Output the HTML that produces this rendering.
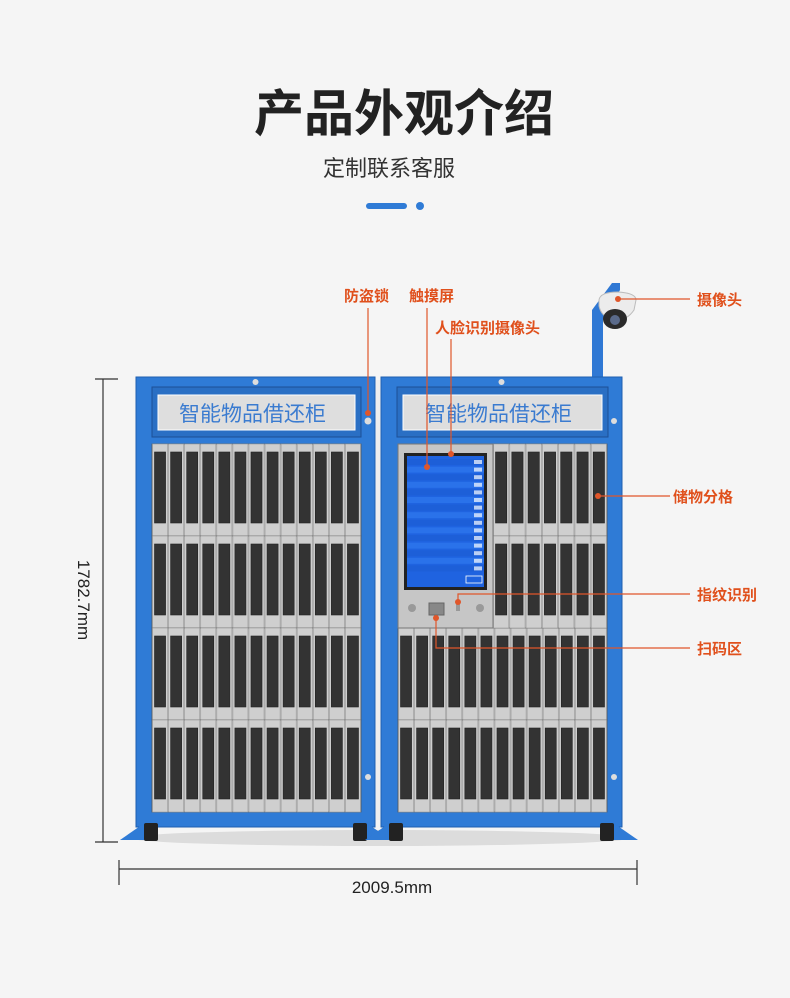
<!DOCTYPE html>
<html><head><meta charset="utf-8"><style>
html,body{margin:0;padding:0;background:#f5f5f5;}
body{width:790px;height:998px;overflow:hidden;font-family:"Liberation Sans","Noto Sans CJK SC",sans-serif;}
svg{display:block}
</style></head><body>
<svg id="s" width="790" height="998" viewBox="0 0 790 998" xmlns="http://www.w3.org/2000/svg" font-family="Liberation Sans, Noto Sans CJK SC, sans-serif">
<rect width="790" height="998" fill="#f5f5f5"/>
<text x="404" y="131" text-anchor="middle" font-size="50" font-weight="bold" fill="#222">产品外观介绍</text>
<text x="389" y="176" text-anchor="middle" font-size="22" fill="#333">定制联系客服</text>
<rect x="366" y="203" width="41" height="6" rx="3" fill="#2f7bd6"/>
<circle cx="420" cy="206" r="4" fill="#2f7bd6"/>

<ellipse cx="380" cy="838" rx="250" ry="8" fill="#ccc" opacity="0.6"/>
<!-- pole -->
<rect x="592" y="318" width="11" height="60" fill="#2f78d4"/>
<polygon points="592,320 603,320 620,290 620,283 612,283 592,310" fill="#2f78d4"/>
<!-- camera -->
<path d="M599,300 Q600,292 618,292 Q636,293 636,300 L634,310 Q626,322 612,320 Q601,316 599,306 Z" fill="#ececec" stroke="#bbb"/>
<ellipse cx="615" cy="319" rx="12" ry="10" fill="#2a2a2a"/>
<circle cx="615" cy="320" r="5" fill="#5a6a8a"/>

<g id="cabs"></g>

<g stroke="#333" stroke-width="1.2">
<line x1="103" y1="379" x2="103" y2="842"/>
<line x1="95" y1="379" x2="118" y2="379"/>
<line x1="95" y1="842" x2="118" y2="842"/>
<line x1="119" y1="869" x2="637" y2="869"/>
<line x1="119" y1="860" x2="119" y2="885"/>
<line x1="637" y1="860" x2="637" y2="885"/>
</g>
<text transform="translate(78,600) rotate(90)" text-anchor="middle" font-size="17" fill="#222">1782.7mm</text>
<text x="392" y="893" text-anchor="middle" font-size="17" fill="#222">2009.5mm</text>

<g stroke="#e0562a" stroke-width="1.2" fill="none">
<line x1="368" y1="308" x2="368" y2="413"/>
<line x1="427" y1="308" x2="427" y2="467"/>
<line x1="451" y1="339" x2="451" y2="454"/>
<line x1="618" y1="299" x2="690" y2="299"/>
<line x1="598" y1="496" x2="670" y2="496"/>
<polyline points="458,602 458,594 690,594"/>
<polyline points="436,618 436,648 690,648"/>
</g>
<g fill="#e0562a">
<circle cx="368" cy="413" r="3"/><circle cx="427" cy="467" r="3"/><circle cx="451" cy="454" r="3"/>
<circle cx="618" cy="299" r="3"/><circle cx="598" cy="496" r="3"/><circle cx="458" cy="602" r="3"/><circle cx="436" cy="618" r="3"/>
</g>
<g fill="#e0501c" font-size="15" font-weight="bold">
<text x="344" y="301">防盗锁</text>
<text x="409" y="301">触摸屏</text>
<text x="435" y="333">人脸识别摄像头</text>
<text x="697" y="305">摄像头</text>
<text x="673" y="502">储物分格</text>
<text x="697" y="600">指纹识别</text>
<text x="697" y="654">扫码区</text>
</g>
</svg>
<script>
var g=document.getElementById('cabs'),h='';
function slots(x0,y0,w,hgt,n){var cw=w/n,s='';s+='<rect x="'+x0+'" y="'+y0+'" width="'+w+'" height="'+hgt+'" fill="#c9c9c9" stroke="#555" stroke-width="0.8"/>';
for(var i=0;i<n;i++){var x=x0+i*cw;s+='<rect x="'+(x+0.5)+'" y="'+y0+'" width="'+(cw-1)+'" height="'+hgt+'" fill="#cfcfcf" stroke="#999" stroke-width="0.6"/>';
s+='<rect x="'+(x+2.5)+'" y="'+(y0+8)+'" width="'+(cw-5)+'" height="'+(hgt-21)+'" fill="#333" stroke="#222" stroke-width="0.6"/>';}return s;}
function cab(x,w){var s='';
s+='<rect x="'+x+'" y="377" width="'+w+'" height="450" fill="#2f7bd6" stroke="#1f5fb0"/>';
s+='<polygon points="'+(x-16)+',840 '+(x+10)+',822 '+(x+10)+',840" fill="#2f7bd6"/>';
s+='<polygon points="'+(x+w+16)+',840 '+(x+w-10)+',822 '+(x+w-10)+',840" fill="#2f7bd6"/>';
s+='<rect x="'+(x+8)+'" y="823" width="14" height="18" rx="2" fill="#222"/>';
s+='<rect x="'+(x+w-22)+'" y="823" width="14" height="18" rx="2" fill="#222"/>';
s+='<rect x="'+(x+16)+'" y="387" width="'+(w-30)+'" height="50" fill="#2a6fc4" stroke="#1c4f95"/>';
s+='<rect x="'+(x+22)+'" y="395" width="'+(w-42)+'" height="35" fill="#dedede" stroke="#fff"/>';
s+='<text x="'+(x+w/2-3)+'" y="421" text-anchor="middle" font-size="21" fill="#3a7bd0">智能物品借还柜</text>';
s+='<circle cx="'+(x+w/2)+'" cy="382" r="3" fill="#ddd"/>';
return s;}
h+=cab(136,239);h+=cab(381,241);
h+='<circle cx="368" cy="421" r="3.5" fill="#ddd"/><circle cx="614" cy="421" r="3" fill="#ddd"/><circle cx="368" cy="777" r="3" fill="#ddd"/><circle cx="614" cy="777" r="3" fill="#ddd"/>';
h+='<rect x="376" y="380" width="4" height="440" fill="#eee"/>';
var ys=[444,536,628,720];
for(var r=0;r<4;r++){h+=slots(152,ys[r],209,92,13);}
h+=slots(398,628,209,92,13);h+=slots(398,720,209,92,13);
h+=slots(493,444,114,92,7);h+=slots(493,536,114,92,7);
h+='<rect x="398" y="444" width="95" height="184" fill="#c6c6c6" stroke="#777"/>';
h+='<rect x="404" y="453" width="83" height="137" fill="#222"/>';
h+='<rect x="407" y="456" width="77" height="131" fill="#1f63e0"/>';
for(var i=0;i<15;i++){var yy=459+i*7.6;h+='<rect x="407" y="'+yy+'" width="77" height="6" fill="'+(i%2?'#2a72ea':'#1d5fd8')+'"/><rect x="474" y="'+(yy+1)+'" width="8" height="4" fill="#fff" opacity="0.7"/>';}
h+='<rect x="466" y="576" width="16" height="7" fill="none" stroke="#fff" stroke-width="0.8"/>';
h+='<circle cx="412" cy="608" r="4" fill="#999"/><circle cx="480" cy="608" r="4" fill="#999"/>';
h+='<rect x="429" y="603" width="15" height="12" fill="#888" stroke="#666"/><rect x="456" y="601" width="4" height="10" fill="#999"/>';
g.innerHTML=h;
</script>
</body></html>
